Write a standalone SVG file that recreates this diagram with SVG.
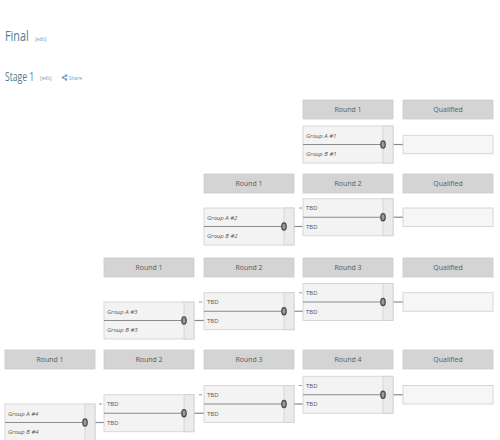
<svg xmlns="http://www.w3.org/2000/svg" width="500" height="440" viewBox="0 0 500 440">
<style>
.t{font-family:"Open Sans","Liberation Sans",sans-serif}
.title{fill:#4f7d8e}
.edit{fill:#6d9cc2;font-size:6px}
.hd{fill:#d4d4d4;stroke:#cbcbcb;stroke-width:0.8}
.hdt{fill:#5a5a5a;font-size:7px;text-anchor:middle}
.box{fill:#f3f3f3;stroke:#cfcfcf;stroke-width:0.8}
.strip{fill:#ebebeb;stroke:#cfcfcf;stroke-width:0.8}
.q{fill:#f6f6f6;stroke:#cfcfcf;stroke-width:0.8}
.lbl{fill:#555;font-size:6px;font-style:italic}
.tbd{fill:#555;font-size:6px}
.ln{stroke:#8a8a8a;stroke-width:1.2;fill:none}
.tick{stroke:#9a9a9a;stroke-width:1;fill:none}
.sc{fill:#9a9a9a;stroke:#4d4d4d;stroke-width:1.3}
</style>
<defs>
<g id="match">
<rect class="box" x="0" y="0" width="90" height="37"/>
<rect class="strip" x="80" y="0" width="10" height="37"/>
<line class="ln" x1="0" y1="18.5" x2="80" y2="18.5"/>
<ellipse class="sc" cx="80" cy="18.5" rx="2.2" ry="3.6"/>
</g>
</defs>
<rect width="500" height="440" fill="#ffffff"/>

<g id="titles">
<text class="t title" transform="translate(5,41) scale(0.72,1)" font-size="15">Final</text>
<text class="t edit" transform="translate(35,41) scale(0.8,1)">[edit]</text>
<text class="t title" transform="translate(5,81) scale(0.72,1)" font-size="12">Stage 1</text>
<text class="t edit" transform="translate(40,80) scale(0.8,1)">[edit]</text>
<g id="share-icon" stroke="#6d9cc2" stroke-width="0.8" fill="#6d9cc2">
<line x1="63" y1="77.5" x2="66" y2="75.5"/>
<line x1="63" y1="77.5" x2="66" y2="79.5"/>
<circle cx="63" cy="77.5" r="0.9"/>
<circle cx="66" cy="75.5" r="0.9"/>
<circle cx="66" cy="79.5" r="0.9"/>
</g>
<text class="t edit" transform="translate(69,80) scale(0.8,1)">Share</text>
</g>

<g id="headers">
<g id="h-r1-round1"><rect class="hd" x="303" y="100" width="90" height="19"/><text class="t hdt" x="348" y="112">Round 1</text></g>
<g id="h-r1-qual"><rect class="hd" x="403" y="100" width="90" height="19"/><text class="t hdt" x="448" y="112">Qualified</text></g>

<g id="h-r2-round1"><rect class="hd" x="204" y="174" width="90" height="19"/><text class="t hdt" x="249" y="186">Round 1</text></g>
<g id="h-r2-round2"><rect class="hd" x="303" y="174" width="90" height="19"/><text class="t hdt" x="348" y="186">Round 2</text></g>
<g id="h-r2-qual"><rect class="hd" x="403" y="174" width="90" height="19"/><text class="t hdt" x="448" y="186">Qualified</text></g>

<g id="h-r3-round1"><rect class="hd" x="104" y="258" width="90" height="19"/><text class="t hdt" x="149" y="270">Round 1</text></g>
<g id="h-r3-round2"><rect class="hd" x="204" y="258" width="90" height="19"/><text class="t hdt" x="249" y="270">Round 2</text></g>
<g id="h-r3-round3"><rect class="hd" x="303" y="258" width="90" height="19"/><text class="t hdt" x="348" y="270">Round 3</text></g>
<g id="h-r3-qual"><rect class="hd" x="403" y="258" width="90" height="19"/><text class="t hdt" x="448" y="270">Qualified</text></g>

<g id="h-r4-round1"><rect class="hd" x="5" y="350" width="90" height="19"/><text class="t hdt" x="50" y="362">Round 1</text></g>
<g id="h-r4-round2"><rect class="hd" x="104" y="350" width="90" height="19"/><text class="t hdt" x="149" y="362">Round 2</text></g>
<g id="h-r4-round3"><rect class="hd" x="204" y="350" width="90" height="19"/><text class="t hdt" x="249" y="362">Round 3</text></g>
<g id="h-r4-round4"><rect class="hd" x="303" y="350" width="90" height="19"/><text class="t hdt" x="348" y="362">Round 4</text></g>
<g id="h-r4-qual"><rect class="hd" x="403" y="350" width="90" height="19"/><text class="t hdt" x="448" y="362">Qualified</text></g>
</g>

<g id="connectors">
<line class="ln" x1="393" y1="144.5" x2="403" y2="144.5"/>

<line class="ln" x1="294" y1="226.5" x2="303" y2="226.5"/>
<line class="tick" x1="299" y1="208" x2="302" y2="208"/>
<line class="ln" x1="393" y1="217.25" x2="403" y2="217.25"/>

<line class="ln" x1="194" y1="320.5" x2="204" y2="320.5"/>
<line class="tick" x1="199" y1="302" x2="202" y2="302"/>
<line class="ln" x1="294" y1="311.25" x2="303" y2="311.25"/>
<line class="tick" x1="299" y1="292.75" x2="302" y2="292.75"/>
<line class="ln" x1="393" y1="302" x2="403" y2="302"/>

<line class="ln" x1="95" y1="422.5" x2="104" y2="422.5"/>
<line class="tick" x1="99" y1="404" x2="102" y2="404"/>
<line class="ln" x1="194" y1="413.25" x2="204" y2="413.25"/>
<line class="tick" x1="199" y1="394.75" x2="202" y2="394.75"/>
<line class="ln" x1="294" y1="404" x2="303" y2="404"/>
<line class="tick" x1="299" y1="385.5" x2="302" y2="385.5"/>
<line class="ln" x1="393" y1="394.75" x2="403" y2="394.75"/>
</g>

<g id="m-r1-1" transform="translate(303,126)"><use href="#match"/>
<text class="t lbl" x="3" y="11.5">Group A #1</text><text class="t lbl" x="3" y="30">Group B #1</text></g>
<g id="q-r1"><rect class="q" x="403" y="135.25" width="90" height="18.5"/></g>

<g id="m-r2-1" transform="translate(204,208)"><use href="#match"/>
<text class="t lbl" x="3" y="11.5">Group A #2</text><text class="t lbl" x="3" y="30">Group B #2</text></g>
<g id="m-r2-2" transform="translate(303,198.75)"><use href="#match"/>
<text class="t tbd" x="3" y="11.5">TBD</text><text class="t tbd" x="3" y="30">TBD</text></g>
<g id="q-r2"><rect class="q" x="403" y="208" width="90" height="18.5"/></g>

<g id="m-r3-1" transform="translate(104,302)"><use href="#match"/>
<text class="t lbl" x="3" y="11.5">Group A #3</text><text class="t lbl" x="3" y="30">Group B #3</text></g>
<g id="m-r3-2" transform="translate(204,292.75)"><use href="#match"/>
<text class="t tbd" x="3" y="11.5">TBD</text><text class="t tbd" x="3" y="30">TBD</text></g>
<g id="m-r3-3" transform="translate(303,283.5)"><use href="#match"/>
<text class="t tbd" x="3" y="11.5">TBD</text><text class="t tbd" x="3" y="30">TBD</text></g>
<g id="q-r3"><rect class="q" x="403" y="292.75" width="90" height="18.5"/></g>

<g id="m-r4-1" transform="translate(5,404)"><use href="#match"/>
<text class="t lbl" x="3" y="11.5">Group A #4</text><text class="t lbl" x="3" y="30">Group B #4</text></g>
<g id="m-r4-2" transform="translate(104,394.75)"><use href="#match"/>
<text class="t tbd" x="3" y="11.5">TBD</text><text class="t tbd" x="3" y="30">TBD</text></g>
<g id="m-r4-3" transform="translate(204,385.5)"><use href="#match"/>
<text class="t tbd" x="3" y="11.5">TBD</text><text class="t tbd" x="3" y="30">TBD</text></g>
<g id="m-r4-4" transform="translate(303,376.25)"><use href="#match"/>
<text class="t tbd" x="3" y="11.5">TBD</text><text class="t tbd" x="3" y="30">TBD</text></g>
<g id="q-r4"><rect class="q" x="403" y="385.5" width="90" height="18.5"/></g>
</svg>
